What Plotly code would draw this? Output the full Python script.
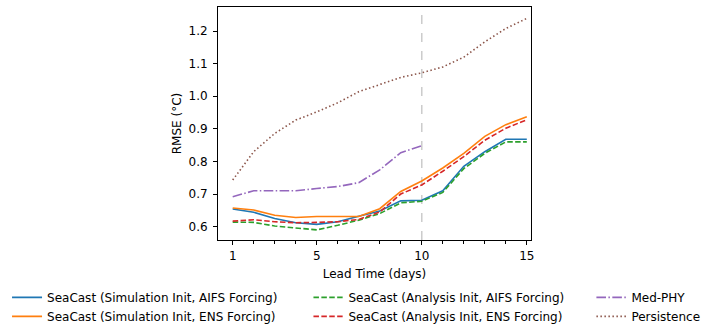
import plotly.graph_objects as go

lead_days = list(range(1, 16))
medphy_days = list(range(1, 11))

sim_aifs = [0.654, 0.644, 0.625, 0.612, 0.607, 0.615, 0.632, 0.648, 0.679, 0.681, 0.710, 0.785, 0.830, 0.868, 0.868]
sim_ens = [0.657, 0.651, 0.635, 0.628, 0.631, 0.631, 0.631, 0.655, 0.708, 0.740, 0.780, 0.825, 0.877, 0.913, 0.937]
ana_aifs = [0.614, 0.613, 0.602, 0.595, 0.590, 0.604, 0.620, 0.640, 0.673, 0.678, 0.705, 0.778, 0.825, 0.860, 0.860]
ana_ens = [0.617, 0.621, 0.615, 0.612, 0.613, 0.615, 0.622, 0.645, 0.700, 0.728, 0.770, 0.815, 0.865, 0.902, 0.928]
med_phy = [0.692, 0.710, 0.710, 0.710, 0.717, 0.723, 0.735, 0.774, 0.827, 0.848]
persistence = [0.743, 0.830, 0.886, 0.927, 0.952, 0.980, 1.014, 1.035, 1.058, 1.072, 1.090, 1.120, 1.167, 1.208, 1.239]

x_ticks = [1, 5, 10, 15]
y_ticks = [0.6, 0.7, 0.8, 0.9, 1.0, 1.1, 1.2]
split_day = 10

FONT = "DejaVu Sans"
DASH = "5.5px,2.4px"
DASHDOT = "9.6px,2.4px,1.5px,2.4px"
DOT = "1.5px,2.5px"

series = [
    ("SeaCast (Simulation Init, AIFS Forcing)", lead_days, sim_aifs, "#1f77b4", "solid", "legend"),
    ("SeaCast (Simulation Init, ENS Forcing)", lead_days, sim_ens, "#ff7f0e", "solid", "legend"),
    ("SeaCast (Analysis Init, AIFS Forcing)", lead_days, ana_aifs, "#2ca02c", DASH, "legend2"),
    ("SeaCast (Analysis Init, ENS Forcing)", lead_days, ana_ens, "#d62728", DASH, "legend2"),
    ("Med-PHY", medphy_days, med_phy, "#9467bd", DASHDOT, "legend3"),
    ("Persistence", lead_days, persistence, "#8c564b", DOT, "legend3"),
]

fig = go.Figure()
for name, xs, ys, color, dash, leg in series:
    fig.add_trace(
        go.Scatter(
            x=xs,
            y=ys,
            mode="lines",
            name=name,
            line=dict(color=color, width=1.6, dash=dash),
            legend=leg,
        )
    )

fig.add_shape(
    type="line", xref="x", yref="paper",
    x0=split_day, x1=split_day, y0=0, y1=1,
    line=dict(color="#cccccc", width=1.5, dash="dash"), layer="below",
)

legend_common = dict(
    orientation="v",
    yanchor="top",
    xanchor="left",
    font=dict(family=FONT, size=12, color="#000000"),
    bgcolor="rgba(0,0,0,0)",
    tracegroupgap=0,
)

fig.update_layout(
    width=714,
    height=335,
    margin=dict(l=218, r=183, t=7, b=95, autoexpand=False),
    paper_bgcolor="white",
    plot_bgcolor="white",
    font=dict(family=FONT, size=12, color="#000000"),
    legend=dict(legend_common, x=-0.674, y=-0.184),
    legend2=dict(legend_common, x=0.289, y=-0.184),
    legend3=dict(legend_common, x=1.193, y=-0.184),
    xaxis=dict(
        range=[0.3, 15.2],
        tickvals=x_ticks,
        ticks="outside",
        ticklen=4,
        tickwidth=0.8,
        tickcolor="#000000",
        ticklabelstandoff=1,
        showgrid=False,
        zeroline=False,
        showline=True,
        mirror=True,
        linecolor="#000000",
        linewidth=1,
        automargin=False,
        minor=dict(tick0=0, dtick=1, ticks="outside", ticklen=2.5, tickwidth=0.6, tickcolor="#000000", showgrid=False),
        title=dict(text="Lead Time (days)", standoff=7, font=dict(family=FONT, size=12)),
        tickfont=dict(family=FONT, size=12),
    ),
    yaxis=dict(
        range=[0.559, 1.274],
        tickvals=y_ticks,
        tickformat=".1f",
        ticks="outside",
        ticklen=4,
        tickwidth=0.8,
        tickcolor="#000000",
        ticklabelstandoff=3,
        showgrid=False,
        zeroline=False,
        showline=True,
        mirror=True,
        linecolor="#000000",
        linewidth=1,
        automargin=False,
        title=dict(text="RMSE (°C)", standoff=4, font=dict(family=FONT, size=12)),
        tickfont=dict(family=FONT, size=12),
    ),
)

fig.write_html(
    "out.html",
    config={"displayModeBar": False},
    post_script="document.body.style.margin='0';",
)
